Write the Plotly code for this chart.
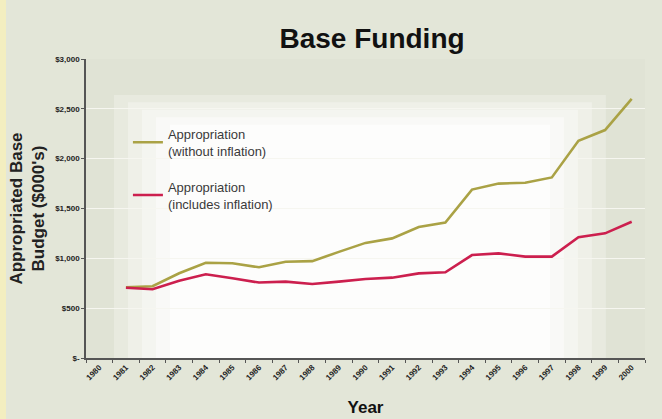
import plotly.graph_objects as go

# Category axis runs 1980-2000; funding data starts in 1981
years = [str(y) for y in range(1980, 2001)]
data_years = [str(y) for y in range(1981, 2001)]

# Appropriated base budget, $000's
without_inflation = [710, 720, 850, 955, 950, 910, 965, 972, 1065, 1155,
                     1200, 1315, 1360, 1690, 1750, 1758, 1812, 2180, 2287, 2600]
includes_inflation = [705, 690, 776, 840, 800, 757, 766, 743, 766, 792,
                      806, 849, 860, 1033, 1050, 1017, 1017, 1211, 1251, 1367]

y_ticks = [0, 500, 1000, 1500, 2000, 2500, 3000]
y_tick_text = ["$-", "$500", "$1,000", "$1,500", "$2,000", "$2,500", "$3,000"]

GOLD = "#aaa245"
RED = "#cc1f4e"
BG = "#e3e6d8"

fig = go.Figure()
fig.add_trace(go.Scatter(
    x=data_years, y=without_inflation, mode="lines",
    name="Appropriation<br>(without inflation)", legendgroup="a",
    line=dict(color=GOLD, width=2.6),
))
fig.add_trace(go.Scatter(
    x=data_years, y=includes_inflation, mode="lines",
    name="Appropriation<br>(includes inflation)", legendgroup="b",
    line=dict(color=RED, width=2.6),
))

# Soft light centre of the plot area, built from stacked translucent panels
shapes = []
for i, a in enumerate([0.25, 0.3, 0.35, 0.45, 0.6]):
    shapes.append(dict(
        type="rect", xref="paper", yref="paper", layer="below",
        x0=0.05 + i * 0.025, x1=0.93 - i * 0.025,
        y0=0.0, y1=0.88 - i * 0.025,
        fillcolor="white", opacity=a, line=dict(width=0),
    ))
# Thin yellowish strip on the far left edge
shapes.append(dict(
    type="rect", xref="paper", yref="paper", layer="below",
    x0=-86 / 559, x1=-80 / 559, y0=-61 / 299, y1=360 / 299,
    fillcolor="#f3eec0", line=dict(width=0),
))

fig.update_layout(
    width=662, height=419,
    margin=dict(l=86, r=17, t=59, b=61),
    paper_bgcolor=BG,
    plot_bgcolor="#e0e3d5",
    font=dict(family="Liberation Sans, Arial, sans-serif", color="#1a1a1a"),
    title=dict(
        text="<b>Base Funding</b>",
        x=0.562, xanchor="center", y=0.91, yanchor="middle",
        font=dict(size=28, color="#111111"),
    ),
    showlegend=True,
    legend=dict(
        x=0.075, y=0.8, xanchor="left", yanchor="top",
        bgcolor="rgba(0,0,0,0)",
        font=dict(size=13, color="#3a3a3a"),
        traceorder="grouped",
        tracegroupgap=16,
        itemwidth=30,
    ),
    shapes=shapes,
    xaxis=dict(
        type="category",
        categoryorder="array", categoryarray=years,
        tickvals=years, ticktext=["<b>%s</b>" % y for y in years],
        range=[-0.5, 20.5],
        tickson="boundaries",
        ticks="outside", ticklen=3, tickcolor="#555555",
        tickangle=-45,
        tickfont=dict(size=8, color="#222222", family="Liberation Sans, Arial"),
        showline=True, linecolor="#555555", linewidth=1.5,
        showgrid=False,
        automargin=False,
        title=dict(text="<b>Year</b>", font=dict(size=17, color="#111111"), standoff=20),
    ),
    yaxis=dict(
        range=[0, 3000],
        tickvals=y_ticks, ticktext=["<b>%s</b>" % t for t in y_tick_text],
        ticks="outside", ticklen=3, tickcolor="#555555",
        tickfont=dict(size=8, color="#222222", family="Liberation Sans, Arial"),
        showline=True, linecolor="#555555", linewidth=1.5,
        showgrid=True, gridcolor="#f6f6f0", gridwidth=1,
        zeroline=False,
        automargin=False,
        title=dict(text="<b>Appropriated Base<br>Budget ($000's)</b>",
                   font=dict(size=17, color="#222222"), standoff=6),
    ),
)

fig.write_html("out.html")
